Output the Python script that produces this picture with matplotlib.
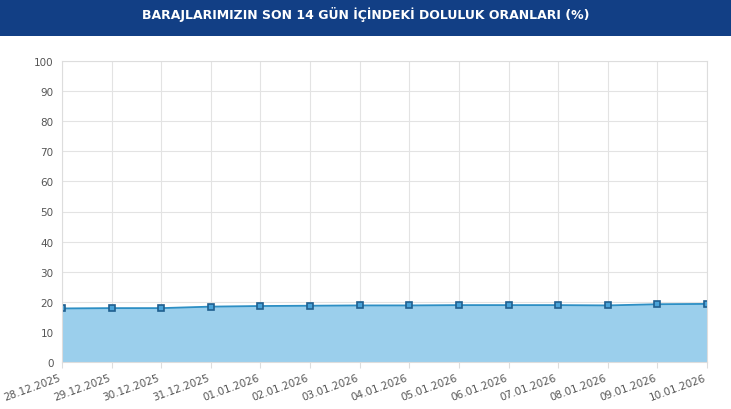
import matplotlib.pyplot as plt

# DATA
dates = ['28.12.2025', '29.12.2025', '30.12.2025', '31.12.2025', '01.01.2026',
         '02.01.2026', '03.01.2026', '04.01.2026', '05.01.2026', '06.01.2026',
         '07.01.2026', '08.01.2026', '09.01.2026', '10.01.2026']
fill_rates = [17.8, 17.9, 17.9, 18.4, 18.6, 18.7, 18.8, 18.8, 18.9, 18.9,
              18.9, 18.8, 19.2, 19.3]
title = 'BARAJLARIMIZIN SON 14 GÜN İÇİNDEKİ DOLULUK ORANLARI (%)'

fig = plt.figure(figsize=(7.31, 4.10), dpi=100)

# header band
hdr = fig.add_axes([0, 1 - 37/410, 1, 37/410])
hdr.set_facecolor('#123f85')
hdr.set_xticks([]); hdr.set_yticks([])
for s in hdr.spines.values():
    s.set_visible(False)
hdr.text(0.5, 0.6, title, color='white', fontsize=9, fontweight='bold',
         ha='center', va='center', transform=hdr.transAxes)

ax = fig.add_axes([62/731, 47/410, 645/731, 301/410])
x = list(range(len(dates)))
ax.fill_between(x, fill_rates, 0, color='#9bcfec')
ax.plot(x, fill_rates, color='#2d8fc4', lw=1.3, marker='s', ms=5,
        mfc='#4aa3d8', mec='#1f5f8f', mew=1.2)
ax.set_xlim(0, len(dates) - 1)
ax.set_ylim(0, 100)
ax.set_yticks(range(0, 101, 10))
ax.set_xticks(x)
ax.set_xticklabels(dates, rotation=20, ha='right', fontsize=7.5, color='#555555')
ax.tick_params(axis='y', labelsize=7.5, colors='#555555', length=0, pad=6)
ax.tick_params(axis='x', length=4, color='#dddddd')
ax.grid(True, color='#e3e3e3', lw=0.8)
ax.set_axisbelow(True)
for s in ax.spines.values():
    s.set_color('#dddddd')

fig.savefig('out.png', dpi=100)
